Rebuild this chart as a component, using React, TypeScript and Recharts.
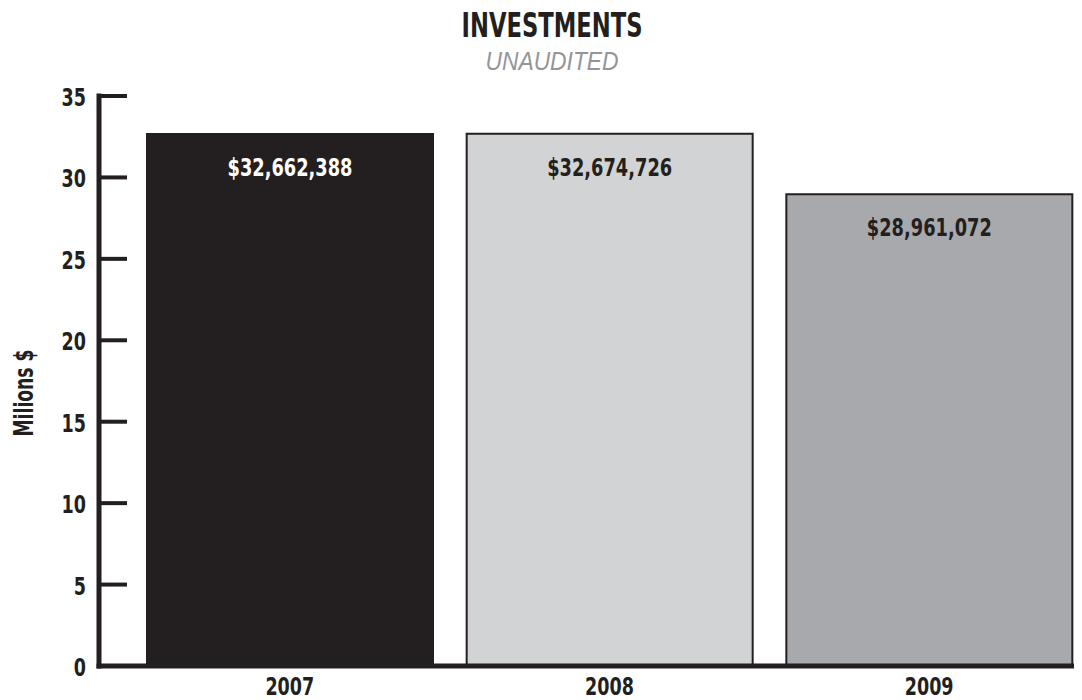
import React from 'react';
import { BarChart, Bar, XAxis, YAxis, Cell, LabelList } from 'recharts';

const years = ['2007', '2008', '2009'];
const investments = [32662388, 32674726, 28961072];
const yTicks = [0, 5, 10, 15, 20, 25, 30, 35];

const data = years.map((year, i) => ({
  year,
  amount: investments[i],
  millions: investments[i] / 1e6,
}));

const INK = '#231f20';
const barFills = ['#231f20', '#d1d3d4', '#a7a9ac'];
const labelFills = ['#ffffff', '#231f20', '#231f20'];
const FONT = "'Liberation Sans Narrow', 'DejaVu Sans Condensed', 'Roboto Condensed', sans-serif";

// condensed look: squeeze glyphs to roughly 12px per digit
const narrow = (s: string) => s.length * 12.2;

const YTick = (props: any) => {
  const { x, y, payload } = props;
  const s = String(payload.value);
  return (
    <g>
      <line x1={x} x2={x + 28} y1={y} y2={y} stroke={INK} strokeWidth={4} />
      <text x={x - 13} y={y} dy={10} textAnchor="end" fill={INK} fontFamily={FONT} fontWeight="bold" fontSize={25}
        textLength={narrow(s)} lengthAdjust="spacingAndGlyphs">
        {s}
      </text>
    </g>
  );
};

const XTick = (props: any) => {
  const { x, y, payload } = props;
  const s = String(payload.value);
  return (
    <text x={x} y={y} dy={29} textAnchor="middle" fill={INK} fontFamily={FONT} fontWeight="bold" fontSize={24}
      textLength={narrow(s)} lengthAdjust="spacingAndGlyphs">
      {s}
    </text>
  );
};

const BarValue = (props: any) => {
  const { x, y, width, index } = props;
  return (
    <text x={x + width / 2} y={y + 42} textAnchor="middle" fill={labelFills[index]} fontFamily={FONT} fontWeight="bold" fontSize={24}
      textLength={125} lengthAdjust="spacingAndGlyphs">
      {'$' + investments[index].toLocaleString('en-US')}
    </text>
  );
};

export default function App() {
  return (
    <div style={{ position: 'relative', width: 1082, height: 700, marginLeft: -8, marginTop: -8, overflow: 'hidden', background: '#fff' }}>
      <BarChart width={1089} height={700} data={data} margin={{ top: 96, right: 0, bottom: 0, left: 0 }}>
        <XAxis
          dataKey="year"
          height={34}
          padding={{ left: 31, right: 0 }}
          axisLine={{ stroke: INK, strokeWidth: 5, strokeLinecap: 'square' }}
          tickLine={false}
          tickSize={0}
          tickMargin={0}
          tick={<XTick />}
        />
        <YAxis
          type="number"
          domain={[0, 35]}
          ticks={yTicks}
          width={99}
          axisLine={{ stroke: INK, strokeWidth: 5, strokeLinecap: 'square' }}
          tickLine={false}
          tickSize={0}
          tickMargin={0}
          tick={<YTick />}
          interval={0}
        />
        <Bar dataKey="millions" barSize={286} stroke={INK} strokeWidth={2} isAnimationActive={false}>
          {data.map((d, i) => (
            <Cell key={d.year} fill={barFills[i]} />
          ))}
          <LabelList dataKey="amount" content={<BarValue />} />
        </Bar>
      </BarChart>
      <svg width={1082} height={700} style={{ position: 'absolute', left: 0, top: 0, pointerEvents: 'none' }}>
        <text x={552} y={37} textAnchor="middle" fill={INK} fontFamily={FONT} fontWeight="bold" fontSize={34} textLength={181} lengthAdjust="spacingAndGlyphs">
          INVESTMENTS
        </text>
        <text x={552} y={70} textAnchor="middle" fill="#939598" fontFamily="'Liberation Sans', 'Open Sans', sans-serif" fontStyle="italic" fontSize={25} textLength={133} lengthAdjust="spacingAndGlyphs">
          UNAUDITED
        </text>
        <text x={33} y={393} transform="rotate(-90 33 393)" textAnchor="middle" fill={INK} fontFamily={FONT} fontWeight="bold" fontSize={26} textLength={87} lengthAdjust="spacingAndGlyphs">
          Milions $
        </text>
      </svg>
    </div>
  );
}
